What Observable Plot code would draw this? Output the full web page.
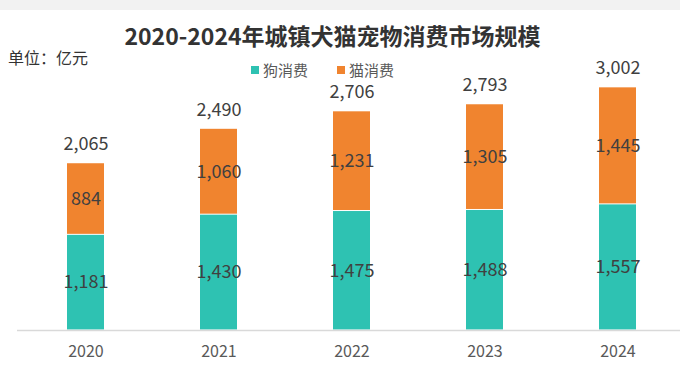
<!DOCTYPE html>
<html>
<head>
<meta charset="utf-8">
<script src="https://cdn.jsdelivr.net/npm/d3@7"></script>
<script src="https://cdn.jsdelivr.net/npm/@observablehq/plot@0.6"></script>
<style>
  body { margin: 0; background: #fff; }
  #wrap { position: relative; width: 680px; height: 379px; overflow: hidden; font-family: "Noto Sans CJK SC", "Noto Sans", sans-serif; }
  #band { position: absolute; left: 0; top: 0; width: 680px; height: 10px; background: #f2f2f2; }
  #title { position: absolute; left: 0; width: 665px; top: 22px; text-align: center; font-size: 23px; line-height: 26px; font-weight: bold; color: #333; }
  #unit { position: absolute; left: 8px; top: 47px; font-size: 16px; line-height: 20px; color: #333; }
  #legend { position: absolute; left: 251px; top: 63px; font-size: 15px; line-height: 14px; color: #595959; display: flex; align-items: center; }
  .sw { display: inline-block; width: 8px; height: 8px; margin-right: 4px; }
  .item { display: flex; align-items: center; margin-right: 29px; }
  #chart { position: absolute; left: 0; top: 0; }
</style>
</head>
<body>
<div id="wrap">
  <div id="band"></div>
  <div id="chart"></div>
  <div id="title">2020-2024年城镇犬猫宠物消费市场规模</div>
  <div id="unit">单位：亿元</div>
  <div id="legend"></div>
</div>
<script>
const years = ["2020", "2021", "2022", "2023", "2024"];
const dog = [1181, 1430, 1475, 1488, 1557];
const cat = [884, 1060, 1231, 1305, 1445];
const totals = [2065, 2490, 2706, 2793, 3002];
const seriesNames = ["狗消费", "猫消费"];
const seriesColors = ["#2ec2b2", "#f0842f"];

const rows = [];
years.forEach((y, i) => {
  rows.push({year: y, type: seriesNames[0], value: dog[i]});
  rows.push({year: y, type: seriesNames[1], value: cat[i]});
});
const fmt = d3.format(",");

const chart = Plot.plot({
  width: 680,
  height: 379,
  marginTop: 46.5,
  marginBottom: 49,
  marginLeft: 17,
  marginRight: 0,
  style: {fontFamily: "'Noto Sans CJK SC', 'Noto Sans', sans-serif", background: "transparent"},
  x: {domain: years, range: [18, 685], paddingInner: 0.72, paddingOuter: 0.36, label: null},
  y: {domain: [0, 3500], axis: null},
  color: {domain: seriesNames, range: seriesColors},
  marks: [
    Plot.barY(rows, Plot.stackY({x: "year", y: "value", fill: "type", z: "type", insetTop: 0.5, insetBottom: 0.5})),
    Plot.ruleY([0], {stroke: "#d9d9d9", strokeWidth: 1.5}),
    Plot.text(rows, Plot.stackY({x: "year", y: "value", z: "type", text: d => fmt(d.value), fill: "#404040", fontSize: 18})),
    Plot.text(years, {x: years, y: totals, text: totals.map(fmt), dy: -19, fill: "#404040", fontSize: 18}),
    Plot.axisX({tickSize: 0, tickPadding: 15, fontSize: 16, fill: "#595959", label: null})
  ]
});
document.getElementById("chart").appendChild(chart);

const legend = document.getElementById("legend");
seriesNames.forEach((n, i) => {
  const item = document.createElement("span");
  item.className = "item";
  const sw = document.createElement("span");
  sw.className = "sw";
  sw.style.background = seriesColors[i];
  item.appendChild(sw);
  item.appendChild(document.createTextNode(n));
  legend.appendChild(item);
});
</script>
</body>
</html>
